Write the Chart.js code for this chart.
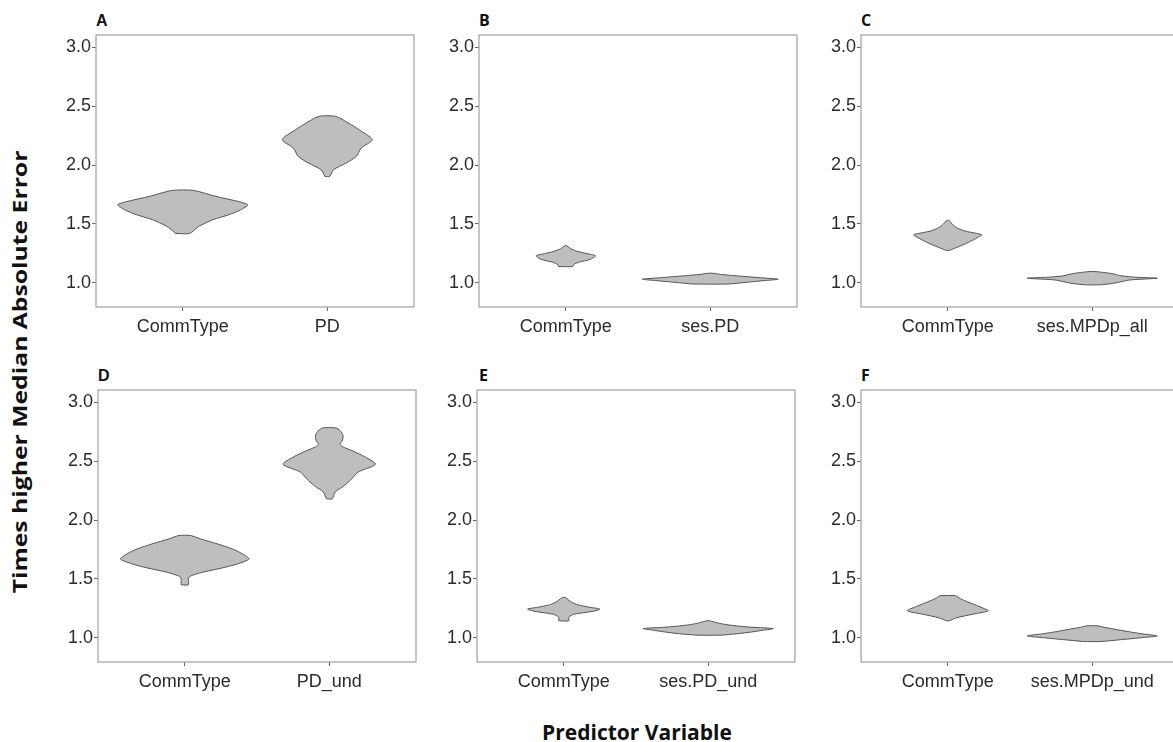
<!DOCTYPE html>
<html>
<head>
<meta charset="utf-8">
<script src="https://cdn.jsdelivr.net/npm/chart.js@4.4.1/dist/chart.umd.min.js"></script>
<style>
  html, body { margin: 0; padding: 0; background: #fff; }
  body { width: 1173px; height: 742px; overflow: hidden; position: relative; }
  canvas { position: absolute; }
  .lbl { position: absolute; font-family: "Liberation Sans"; font-weight: bold; font-size: 16px; line-height: 16px; color: #111; }
  .cal { font-family: "Open Sans"; }
  #ytitle { position: absolute; left: 20px; top: 372px; line-height: 1; white-space: nowrap;
            font: bold 19px "Open Sans"; color: #111;
            transform: translate(-50%, -50%) rotate(-90deg) scaleX(1.3); }
  #xtitle { position: absolute; left: 637px; top: 718px; line-height: 1; white-space: nowrap;
            font: bold 21px "Open Sans"; color: #111; transform: translateX(-50%); }
</style>
</head>
<body>
<div class="lbl" style="left:96px;top:13px">A</div>
<div class="lbl cal" style="left:479px;top:12px">B</div>
<div class="lbl cal" style="left:861px;top:12px">C</div>
<div class="lbl" style="left:98px;top:368px">D</div>
<div class="lbl cal" style="left:479px;top:367px">E</div>
<div class="lbl cal" style="left:861px;top:367px">F</div>
<div id="ytitle">Times higher Median Absolute Error</div>
<div id="xtitle">Predictor Variable</div>
<script>
// axis
const yTickVals = [1.0, 1.5, 2.0, 2.5, 3.0];
const yMin = 0.795, yMax = 3.105;

const catsA = ["CommType", "PD"];
const catsB = ["CommType", "ses.PD"];
const catsC = ["CommType", "ses.MPDp_all"];
const catsD = ["CommType", "PD_und"];
const catsE = ["CommType", "ses.PD_und"];
const catsF = ["CommType", "ses.MPDp_und"];

// violin outlines: value levels and half widths (in category units)
const aCommY = [1.42, 1.48, 1.536, 1.578, 1.62, 1.663, 1.69, 1.735, 1.785];
const aCommW = [0.048, 0.111, 0.208, 0.318, 0.401, 0.45, 0.388, 0.228, 0.073];
const aPdY = [1.904, 1.96, 2.018, 2.074, 2.145, 2.216, 2.30, 2.358, 2.414];
const aPdW = [0.017, 0.042, 0.131, 0.201, 0.235, 0.311, 0.221, 0.145, 0.058];

const bCommY = [1.139, 1.155, 1.175, 1.2, 1.23, 1.25, 1.27, 1.29, 1.315];
const bCommW = [0.05, 0.055, 0.09, 0.17, 0.205, 0.14, 0.075, 0.035, 0.008];
const bSesY = [0.99, 1.005, 1.02, 1.031, 1.045, 1.06, 1.072, 1.082];
const bSesW = [0.12, 0.25, 0.38, 0.47, 0.33, 0.18, 0.07, 0.015];

const cCommY = [1.275, 1.30, 1.33, 1.36, 1.39, 1.408, 1.42, 1.44, 1.47, 1.50, 1.53];
const cCommW = [0.01, 0.06, 0.12, 0.17, 0.215, 0.236, 0.2, 0.12, 0.06, 0.03, 0.008];
const cSesY = [0.983, 0.995, 1.01, 1.025, 1.035, 1.04, 1.048, 1.06, 1.075, 1.088, 1.096];
const cSesW = [0.05, 0.14, 0.2, 0.26, 0.4, 0.45, 0.3, 0.2, 0.15, 0.08, 0.02];

const dCommY = [1.451, 1.50, 1.522, 1.557, 1.594, 1.628, 1.67, 1.713, 1.755, 1.798, 1.84, 1.869];
const dCommW = [0.025, 0.025, 0.035, 0.122, 0.26, 0.364, 0.445, 0.40, 0.33, 0.226, 0.11, 0.041];
const dPdY = [2.181, 2.24, 2.28, 2.337, 2.408, 2.474, 2.535, 2.59, 2.625, 2.645, 2.68, 2.72, 2.76, 2.783];
const dPdW = [0.02, 0.042, 0.09, 0.145, 0.2, 0.32, 0.25, 0.157, 0.09, 0.075, 0.092, 0.095, 0.075, 0.045];

const eCommY = [1.145, 1.175, 1.2, 1.225, 1.244, 1.26, 1.28, 1.30, 1.32, 1.343];
const eCommW = [0.035, 0.035, 0.07, 0.2, 0.25, 0.18, 0.1, 0.06, 0.035, 0.01];
const eSesY = [1.023, 1.035, 1.05, 1.065, 1.079, 1.09, 1.105, 1.12, 1.135, 1.145];
const eSesW = [0.08, 0.2, 0.3, 0.38, 0.45, 0.3, 0.17, 0.09, 0.04, 0.01];

const fCommY = [1.145, 1.17, 1.20, 1.23, 1.26, 1.29, 1.32, 1.345, 1.358];
const fCommW = [0.01, 0.06, 0.17, 0.28, 0.23, 0.17, 0.11, 0.07, 0.055];
const fSesY = [0.969, 0.985, 1.0, 1.017, 1.035, 1.055, 1.075, 1.09, 1.102];
const fSesW = [0.06, 0.2, 0.33, 0.45, 0.34, 0.24, 0.15, 0.08, 0.04];

const panels = [
  { left: 96,  top: 35,  cats: catsA, v: [[aCommY, aCommW], [aPdY, aPdW]] },
  { left: 479, top: 35,  cats: catsB, v: [[bCommY, bCommW], [bSesY, bSesW]] },
  { left: 861, top: 35,  cats: catsC, v: [[cCommY, cCommW], [cSesY, cSesW]] },
  { left: 98,  top: 390, cats: catsD, v: [[dCommY, dCommW], [dPdY, dPdW]] },
  { left: 477, top: 390, cats: catsE, v: [[eCommY, eCommW], [eSesY, eSesW]] },
  { left: 861, top: 390, cats: catsF, v: [[fCommY, fCommW], [fSesY, fSesW]] },
];

const PW = 318, PH = 272, YW = 50, XH = 45, PT = 14, PR = 8;

function outline(center, ys, ws) {
  const pts = [];
  for (let i = 0; i < ys.length; i++) pts.push({ x: center - ws[i], y: ys[i] });
  for (let i = ys.length - 1; i >= 0; i--) pts.push({ x: center + ws[i], y: ys[i] });
  pts.push(pts[0]);
  return pts;
}

const boxPlugin = {
  id: "box",
  afterDatasetsDraw(chart) {
    const { ctx, chartArea: a } = chart;
    ctx.save();
    ctx.strokeStyle = "#a8a8a8";
    ctx.lineWidth = 1.3;
    ctx.strokeRect(a.left, a.top, a.right - a.left, a.bottom - a.top);
    ctx.restore();
  }
};

const tickFont = { family: "Liberation Sans", size: 18 };

panels.forEach(p => {
  const c = document.createElement("canvas");
  c.width = YW + PW + PR;
  c.height = PT + PH + XH;
  c.style.left = (p.left - YW) + "px";
  c.style.top = (p.top - PT) + "px";
  document.body.appendChild(c);

  new Chart(c, {
    type: "scatter",
    data: {
      datasets: p.v.map((vv, i) => ({
        data: outline(i + 1, vv[0], vv[1]),
        showLine: true,
        fill: "shape",
        tension: 0.25,
        pointRadius: 0,
        backgroundColor: "#bebebe",
        borderColor: "#555",
        borderWidth: 1,
      })),
    },
    options: {
      responsive: false,
      animation: false,
      layout: { padding: { left: 0, top: PT, right: PR, bottom: 0 } },
      plugins: { legend: { display: false }, tooltip: { enabled: false } },
      scales: {
        x: {
          type: "linear",
          min: 0.4,
          max: 2.6,
          afterBuildTicks: s => { s.ticks = p.cats.map((_, i) => ({ value: i + 1 })); },
          afterFit: s => { s.height = XH; },
          border: { display: false },
          grid: { drawOnChartArea: false, tickLength: 4, color: "#666" },
          ticks: {
            callback: v => p.cats[Math.round(v) - 1],
            font: tickFont, color: "#2b2b2b", padding: 5, maxRotation: 0, autoSkip: false,
          },
        },
        y: {
          min: yMin,
          max: yMax,
          afterBuildTicks: s => { s.ticks = yTickVals.map(v => ({ value: v })); },
          afterFit: s => { s.width = YW; },
          border: { display: false },
          grid: { drawOnChartArea: false, tickLength: 4, color: "#666" },
          ticks: { callback: v => v.toFixed(1), font: tickFont, color: "#2b2b2b", padding: 1 },
        },
      },
    },
    plugins: [boxPlugin],
  });
});
</script>
</body>
</html>
